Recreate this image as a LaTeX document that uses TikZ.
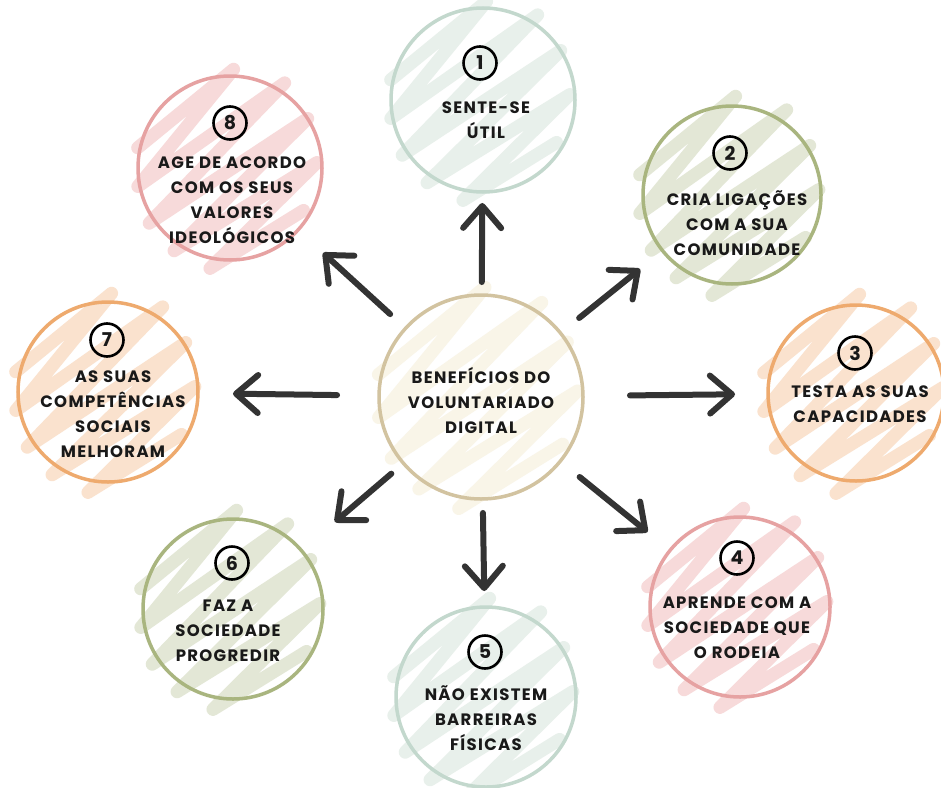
\documentclass[tikz,border=0pt]{standalone}
\usepackage{fontspec}
\usetikzlibrary{arrows.meta,backgrounds}

\newfontfamily\handfont{Poppins}[LetterSpace=8]

\definecolor{arrowgrey}{HTML}{333333}
\definecolor{sageline}{HTML}{C3D8CD}
\definecolor{sagefill}{HTML}{E8F0EB}
\definecolor{oliveline}{HTML}{A9B57F}
\definecolor{olivefill}{HTML}{E3E7D6}
\definecolor{peachline}{HTML}{EEAA6E}
\definecolor{peachfill}{HTML}{FAE2CE}
\definecolor{roseline}{HTML}{E6A2A2}
\definecolor{rosefill}{HTML}{F7DADA}
\definecolor{sandline}{HTML}{D2C3A0}
\definecolor{sandfill}{HTML}{F9F5E8}

% hand-drawn looking scribble behind a circle
\newcommand\scribble[3]{%
  \begin{scope}[shift={(#1)}, rotate=28, scale=#3]
    \draw[#2, line width=13pt, line cap=round, line join=round]
      (-80,-68) -- (55,-95) -- (-100,-30) -- (98,-55) -- (-108,12) -- (102,-8)
      -- (-98,52) -- (88,40) -- (-72,88) -- (50,80);
  \end{scope}}

\begin{document}
\begin{tikzpicture}[
            x=1pt, y=-1pt,
            every node/.style={font=\handfont\bfseries\fontsize{16.5}{25}\selectfont, text=black!90},
            ring/.style={circle, line width=3.5pt, inner sep=0pt, outer sep=0pt, minimum size=#1},
            badge/.style={circle, draw=black, line width=2.6pt, inner sep=0pt, minimum size=33pt,
                font=\handfont\bfseries\fontsize{19}{19}\selectfont},
            label/.style={align=center, inner sep=0pt},
            arrow/.style={-{Straight Barb[length=22pt, width=38pt, line cap=round, line join=round]},
                line width=6pt, line cap=round, color=arrowgrey}
        ]

        \useasboundingbox (0,0) rectangle (941,787);

        \node[ring=204pt, draw=sandline] (hub) at (481,397) {};
        \node[ring=184pt, draw=sageline]  (b1) at (483,100) {};
        \node[ring=178pt, draw=oliveline] (b2) at (732,195) {};
        \node[ring=176pt, draw=peachline] (b3) at (856,393) {};
        \node[ring=180pt, draw=roseline]  (b4) at (740,607) {};
        \node[ring=180pt, draw=sageline]  (b5) at (486,697) {};
        \node[ring=180pt, draw=oliveline] (b6) at (233,609) {};
        \node[ring=180pt, draw=peachline] (b7) at (108,392) {};
        \node[ring=184pt, draw=roseline]  (b8) at (230,168) {};

        \node[label] (hubtext) at (481,400) {BENEFÍCIOS DO\\VOLUNTARIADO\\DIGITAL};

        \node[badge] (n1) at (480,63)  {1};
        \node[badge] (n2) at (730,153) {2};
        \node[badge] (n3) at (855,353) {3};
        \node[badge] (n4) at (737,558) {4};
        \node[badge] (n5) at (485,652) {5};
        \node[badge] (n6) at (232,563) {6};
        \node[badge] (n7) at (107,340) {7};
        \node[badge] (n8) at (230,123) {8};

        \node[label] (t1) at (486,120) {SENTE-SE\\ÚTIL};
        \node[label] (t2) at (737,223) {CRIA LIGAÇÕES\\COM A SUA\\COMUNIDADE};
        \node[label] (t3) at (860,404) {TESTA AS SUAS\\CAPACIDADES};
        \node[label] (t4) at (737,628) {APRENDE COM A\\SOCIEDADE QUE\\O RODEIA};
        \node[label] (t5) at (486,718) {NÃO EXISTEM\\BARREIRAS\\FÍSICAS};
        \node[label] (t6) at (228,631) {FAZ A\\SOCIEDADE\\PROGREDIR};
        \node[label] (t7) at (113,414) {AS SUAS\\COMPETÊNCIAS\\SOCIAIS\\MELHORAM};
        \node[label] (t8) at (232,200) {AGE DE ACORDO\\COM OS SEUS\\VALORES\\IDEOLÓGICOS};

        \draw[arrow, shorten <=13pt, shorten >=11pt] (hub) -- (b1);
        \draw[arrow, shorten <=24pt, shorten >=29pt] (hub) -- (b2);
        \draw[arrow, shorten <=47pt, shorten >=33pt] (hub) -- (b3);
        \draw[arrow, shorten <=25pt, shorten >=29pt] (hub) -- (b4);
        \draw[arrow, shorten <=14pt, shorten >=16pt] (hub) -- (b5);
        \draw[arrow, shorten <=16pt, shorten >=44pt] (hub) -- (b6);
        \draw[arrow, shorten <=42pt, shorten >=35pt] (hub) -- (b7);
        \draw[arrow, shorten <=21pt, shorten >=34pt] (hub) -- (b8);

        \begin{scope}[on background layer]
            \fill[white] (0,0) rectangle (941,787);
            \scribble{hub}{sandfill}{1}
            \scribble{b1}{sagefill}{0.9}
            \scribble{b2}{olivefill}{0.9}
            \scribble{b3}{peachfill}{0.9}
            \scribble{b4}{rosefill}{0.9}
            \scribble{b5}{sagefill}{0.9}
            \scribble{b6}{olivefill}{0.9}
            \scribble{b7}{peachfill}{0.9}
            \scribble{b8}{rosefill}{0.9}
        \end{scope}

    \end{tikzpicture}
\end{document}
